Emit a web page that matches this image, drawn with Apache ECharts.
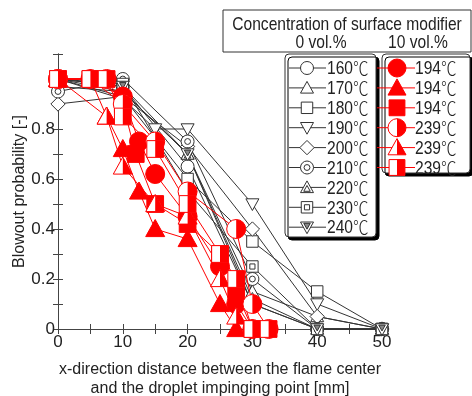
<!DOCTYPE html>
<html>
<head>
<meta charset="utf-8">
<script src="https://cdn.jsdelivr.net/npm/echarts@6/dist/echarts.min.js"></script>
<style>html,body{margin:0;padding:0;background:#fff}#c{width:472px;height:396px}</style>
</head>
<body>
<div id="c"></div>
<script>
// ---- data ----
const xTickValues = [0, 10, 20, 30, 40, 50];
const yTickValues = [0, 0.2, 0.4, 0.6, 0.8];

const blackNames = ['160℃', '170℃', '180℃', '190℃', '200℃', '210℃', '220℃', '230℃', '240℃'];
const blackKinds = ['circle', 'triangle', 'square', 'invtri', 'diamond', 'circdot', 'tri2', 'sq2', 'invtri2'];
const s160 = [[0, 1.0], [10, 0.97], [20, 0.65], [30, 0.1], [40, 0], [50, 0]];
const s170 = [[0, 0.97], [10, 0.95], [20, 0.7], [30, 0.15], [40, 0.05], [50, 0]];
const s180 = [[0, 1.0], [10, 0.93], [20, 0.6], [30, 0.35], [40, 0.15], [50, 0]];
const s190 = [[0, 1.0], [10, 0.92], [15, 0.8], [20, 0.8], [30, 0.5], [40, 0.1], [50, 0]];
const s200 = [[0, 0.9], [10, 0.93], [20, 0.73], [30, 0.4], [40, 0.05], [50, 0]];
const s210 = [[0, 0.95], [10, 1.0], [20, 0.75], [30, 0.2], [40, 0], [50, 0]];
const s220 = [[0, 1.0], [10, 0.95], [20, 0.7], [30, 0.12], [40, 0], [50, 0]];
const s230 = [[0, 1.0], [10, 0.98], [20, 0.55], [30, 0.25], [40, 0], [50, 0]];
const s240 = [[0, 1.0], [10, 0.97], [20, 0.7], [30, 0.1], [40, 0], [50, 0]];
const blackData = [s160, s170, s180, s190, s200, s210, s220, s230, s240];

const redNames = ['194℃ a', '194℃ b', '194℃ c', '239℃ a', '239℃ b', '239℃ c'];
const redLabels = ['194℃', '194℃', '194℃', '239℃', '239℃', '239℃'];
const redKinds = ['circleF', 'triF', 'squareF', 'circleH', 'triH', 'squareH'];
const r194c = [[0, 1.0], [5, 1.0], [10, 0.93], [12.5, 0.75], [15, 0.62], [20, 0.45], [25, 0.25], [27.5, 0.1], [30, 0]];
const r194t = [[0, 1.0], [7.5, 0.85], [10, 0.72], [12.5, 0.55], [15, 0.4], [20, 0.36], [25, 0.1], [27.5, 0]];
const r194s = [[0, 1.0], [5, 1.0], [10, 0.9], [12, 0.7], [15, 0.5], [20, 0.42], [25, 0.3], [27.5, 0.15], [30, 0]];
const r239c = [[0, 1.0], [7.5, 1.0], [10, 0.9], [15, 0.75], [20, 0.55], [27.5, 0.4], [30, 0.1], [32.5, 0]];
const r239t = [[0, 1.0], [5, 1.0], [7.5, 0.85], [10, 0.65], [15, 0.5], [20, 0.45], [25, 0.2], [27.5, 0.05], [30, 0]];
const r239s = [[0, 1.0], [5, 1.0], [7.5, 1.0], [10, 0.85], [15, 0.72], [20, 0.5], [25, 0.3], [27.5, 0.2], [30, 0], [32.5, 0]];
const redData = [r194c, r194t, r194s, r239c, r239t, r239s];

// ---- styling ----
const FONT = "'Liberation Sans','Noto Sans CJK JP',sans-serif";
const CJK = "'Noto Sans CJK JP','Noto Sans CJK SC',sans-serif";
const BLACK = '#333';
const RED = '#f00';
const TXT = '#222';

function shapes(kind, x, y, s, c) {
  const h = s / 2, W = '#fff', lw = 1;
  const tri = (hh, up, dy) => {
    dy = dy || 0;
    return up ? [[x, y - hh + dy], [x + hh, y + hh * 0.8 + dy], [x - hh, y + hh * 0.8 + dy]]
              : [[x, y + hh + dy], [x + hh, y - hh * 0.8 + dy], [x - hh, y - hh * 0.8 + dy]];
  };
  const st = (fill) => ({ fill: fill, stroke: c, lineWidth: lw });
  const q = h * 0.88;
  switch (kind) {
    case 'circle': return [{ type: 'circle', shape: { cx: x, cy: y, r: h }, style: st(W) }];
    case 'circdot': return [{ type: 'circle', shape: { cx: x, cy: y, r: h }, style: st(W) },
                            { type: 'circle', shape: { cx: x, cy: y, r: h * 0.45 }, style: st(W) }];
    case 'triangle': return [{ type: 'polygon', shape: { points: tri(h, true) }, style: st(W) }];
    case 'tri2': return [{ type: 'polygon', shape: { points: tri(h, true) }, style: st(W) },
                         { type: 'polygon', shape: { points: tri(h * 0.5, true, h * 0.2) }, style: st(W) }];
    case 'square': return [{ type: 'rect', shape: { x: x - q, y: y - q, width: 2 * q, height: 2 * q }, style: st(W) }];
    case 'sq2': return [{ type: 'rect', shape: { x: x - q, y: y - q, width: 2 * q, height: 2 * q }, style: st(W) },
                        { type: 'rect', shape: { x: x - q * 0.45, y: y - q * 0.45, width: q * 0.9, height: q * 0.9 }, style: st(W) }];
    case 'invtri': return [{ type: 'polygon', shape: { points: tri(h, false) }, style: st(W) }];
    case 'invtri2': return [{ type: 'polygon', shape: { points: tri(h, false) }, style: st(W) },
                            { type: 'polygon', shape: { points: tri(h * 0.5, false, -h * 0.2) }, style: st('#888') }];
    case 'diamond': return [{ type: 'polygon', shape: { points: [[x, y - h * 1.1], [x + h * 1.1, y], [x, y + h * 1.1], [x - h * 1.1, y]] }, style: st(W) }];
    case 'circleF': return [{ type: 'circle', shape: { cx: x, cy: y, r: h }, style: st(c) }];
    case 'triF': return [{ type: 'polygon', shape: { points: tri(h, true) }, style: st(c) }];
    case 'squareF': return [{ type: 'rect', shape: { x: x - q, y: y - q, width: 2 * q, height: 2 * q }, style: st(c) }];
    case 'circleH': return [{ type: 'circle', shape: { cx: x, cy: y, r: h }, style: st(W) },
                            { type: 'sector', shape: { cx: x, cy: y, r0: 0, r: h, startAngle: -Math.PI / 2, endAngle: Math.PI / 2, clockwise: true }, style: { fill: c } }];
    case 'triH': return [{ type: 'polygon', shape: { points: tri(h, true) }, style: st(W) },
                         { type: 'polygon', shape: { points: [[x, y - h], [x + h, y + h * 0.8], [x, y + h * 0.8]] }, style: { fill: c } }];
    case 'squareH': return [{ type: 'rect', shape: { x: x - q, y: y - q, width: 2 * q, height: 2 * q }, style: st(W) },
                            { type: 'rect', shape: { x: x, y: y - q, width: q, height: 2 * q }, style: { fill: c } }];
  }
  return [];
}

function markerSeries(name, data, kind, color, size, z) {
  return {
    type: 'custom', name: name, data: data, z: z,
    encode: { x: 0, y: 1 },
    renderItem: function (params, api) {
      const p = api.coord([api.value(0), api.value(1)]);
      return { type: 'group', children: shapes(kind, p[0], p[1], size, color) };
    }
  };
}
function lineSeries(name, data, color, z) {
  return { type: 'line', name: name + '_l', data: data, symbol: 'none', z: z,
           lineStyle: { color: color, width: 1 }, silent: true, animation: false };
}

const series = [];
blackData.forEach((d, i) => {
  series.push(lineSeries(blackNames[i], d, BLACK, 2));
  series.push(markerSeries(blackNames[i], d, blackKinds[i], BLACK, 13, 3));
});
redData.forEach((d, i) => {
  series.push(lineSeries(redNames[i], d, RED, 4));
  series.push(markerSeries(redNames[i], d, redKinds[i], RED, 19, 5));
});

// ---- legend (drawn graphic) ----
const SX = 0.82;
function txt(s, x, y, align) {
  return { type: 'text', z: 102, x: x, y: y, scaleX: SX,
           style: { text: s, font: '19px ' + FONT, fill: TXT, align: align, verticalAlign: 'middle' } };
}
function degTxt(s, x, y) {
  const num = s.replace('℃', '');
  return { type: 'text', z: 102, x: x, y: y, scaleX: SX,
           style: { text: '{a|' + num + '}{b|℃}', fill: TXT, align: 'left', verticalAlign: 'middle',
             rich: { a: { fontFamily: FONT, fontSize: 19, fill: TXT },
                     b: { fontFamily: CJK, fontSize: 19, fontWeight: 300, fill: TXT } } } };
}
const graphic = [];
graphic.push({ type: 'rect', z: 100, shape: { x: 223, y: 10, width: 248, height: 42 }, style: { fill: '#fff', stroke: '#333', lineWidth: 1 } });
graphic.push(txt('Concentration of surface modifier', 347, 25, 'center'));
graphic.push(txt('0 vol.%', 321, 43, 'center'));
graphic.push(txt('10 vol.%', 418, 43, 'center'));
graphic.push({ type: 'rect', z: 100, shape: { x: 285, y: 54, width: 91, height: 183, r: 4 }, style: { fill: '#fff', stroke: '#333', lineWidth: 1, shadowColor: '#000', shadowOffsetX: 3, shadowOffsetY: 3, shadowBlur: 0 } });
graphic.push({ type: 'rect', z: 100, shape: { x: 382, y: 54, width: 88, height: 119, r: 4 }, style: { fill: '#fff', stroke: '#333', lineWidth: 1, shadowColor: '#000', shadowOffsetX: 3, shadowOffsetY: 3, shadowBlur: 0 } });
const rowY0 = 68, rowDy = 19.9;
blackNames.forEach((n, i) => {
  const y = rowY0 + i * rowDy;
  graphic.push({ type: 'line', z: 101, shape: { x1: 289, y1: y, x2: 326, y2: y }, style: { stroke: BLACK, lineWidth: 1 } });
  graphic.push({ type: 'group', z: 102, children: shapes(blackKinds[i], 307, y, 13, BLACK).map(e => Object.assign(e, { z: 102 })) });
  graphic.push(degTxt(n, 327, y + 1));
});
redLabels.forEach((n, i) => {
  const y = rowY0 + i * rowDy;
  graphic.push({ type: 'line', z: 101, shape: { x1: 377, y1: y, x2: 415, y2: y }, style: { stroke: RED, lineWidth: 1 } });
  graphic.push({ type: 'group', z: 102, children: shapes(redKinds[i], 397, y, 18, RED).map(e => Object.assign(e, { z: 102 })) });
  graphic.push(degTxt(n, 415, y + 1));
});

const axisCommon = {
  type: 'value', splitLine: { show: false },
  axisLine: { show: true, lineStyle: { color: '#444', width: 1 } },
  axisTick: { show: true, inside: true, length: 5, lineStyle: { color: '#444' } }
};
const option = {
  animation: false,
  backgroundColor: '#fff',
  grid: { left: 58, right: 90, top: 54, bottom: 67, containLabel: false, outerBoundsMode: 'none' },
  xAxis: [
    Object.assign({}, axisCommon, {
      min: 0, max: 50, interval: 5, position: 'bottom',
      axisLabel: { fontFamily: FONT, fontSize: 17, color: TXT, margin: 5,
        formatter: v => (xTickValues.indexOf(v) >= 0 ? String(v) : '') },
      name: 'x-direction distance between the flame center\nand the droplet impinging point [mm]',
      nameLocation: 'middle', nameGap: 31, nameMoveOverlap: false,
      nameTextStyle: { fontFamily: FONT, fontSize: 16, color: TXT, lineHeight: 19, verticalAlign: 'top' }
    }),
    Object.assign({}, axisCommon, { min: 0, max: 50, interval: 5, position: 'top', axisLabel: { show: false } })
  ],
  yAxis: [
    Object.assign({}, axisCommon, {
      min: 0, max: 1.1, interval: 0.1, position: 'left',
      axisLabel: { fontFamily: FONT, fontSize: 17, color: TXT, margin: 3,
        formatter: v => { const r = Math.round(v * 10) / 10; return yTickValues.indexOf(r) >= 0 ? (r === 0 ? '0' : r.toFixed(1)) : ''; } },
      name: 'Blowout probability [-]', nameLocation: 'middle', nameGap: 38, nameRotate: 90, nameMoveOverlap: false,
      nameTextStyle: { fontFamily: FONT, fontSize: 16, color: TXT, verticalAlign: 'middle' }
    }),
    Object.assign({}, axisCommon, { min: 0, max: 1.1, interval: 0.1, position: 'right', axisLabel: { show: false } })
  ],
  graphic: graphic,
  series: series
};
const chart = echarts.init(document.getElementById('c'), null, { renderer: 'canvas' });
chart.setOption(option);
</script>
</body>
</html>
